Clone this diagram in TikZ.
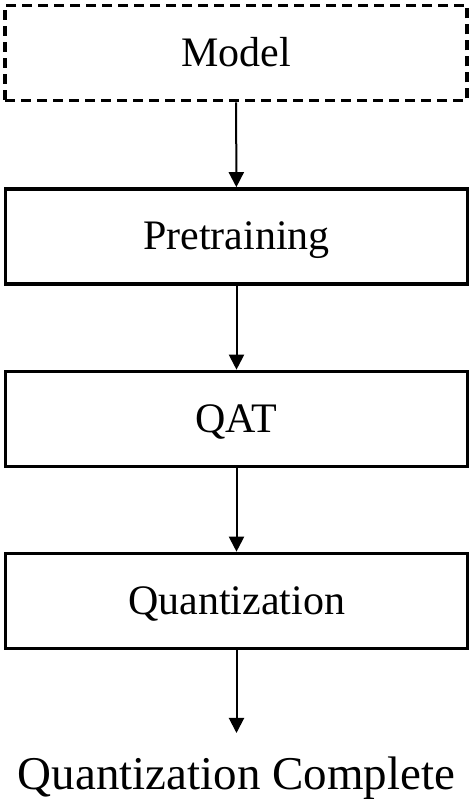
\documentclass[tikz,border=0pt]{standalone}
\usepackage{fontspec}
\setmainfont{Liberation Serif}
\usetikzlibrary{arrows.meta}

\begin{document}
\begin{tikzpicture}[x=1pt,y=1pt,
	etape/.style={draw,line width=3.6pt,minimum width=462pt,minimum height=95pt,inner sep=0pt,text height=27pt,text depth=0pt,font=\fontsize{42}{50}\selectfont},
	fleche/.style={line width=2pt,-{Triangle[width=15pt,length=15pt]}}]
					%\draw[help lines] (0,0) grid (473,804);
					\useasboundingbox (0,0) rectangle (473,804);
					
					%ETAPES
					\node[etape,dash pattern=on 10pt off 6pt] (model) at (236,751) {Model};
					\node[etape] (pretrain) at (236.5,567.5) {Pretraining};
					\node[etape] (qat) at (236.5,385) {QAT};
					\node[etape] (quant) at (236.5,203) {Quantization};
					
					%FIN
					\coordinate (F) at (236.5,71);
					\node[anchor=base,font=\fontsize{47}{56}\selectfont] (fin) at (236.5,14) {Quantization Complete};
					
					%FLECHES
					\draw[fleche] (model) -- (pretrain);
					\draw[fleche] (pretrain) -- (qat);
					\draw[fleche] (qat) -- (quant);
					\draw[fleche] (quant) -- (F);
				  \end{tikzpicture}
\end{document}
